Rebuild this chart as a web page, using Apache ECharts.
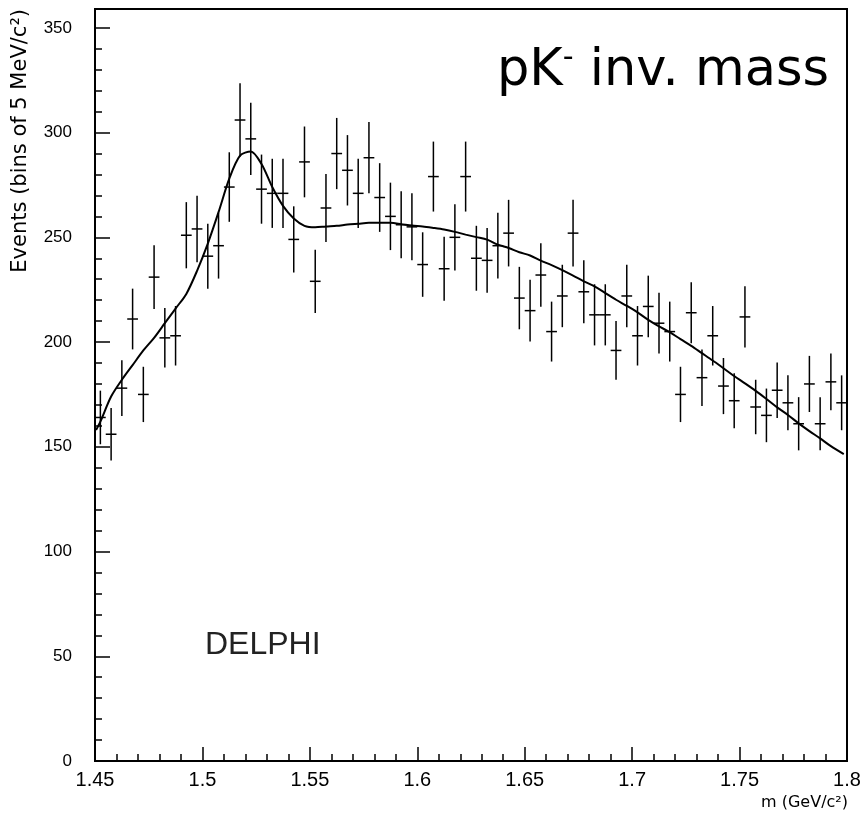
<!DOCTYPE html>
<html><head><meta charset="utf-8">
<script src="https://cdn.jsdelivr.net/npm/echarts/dist/echarts.min.js"></script>
<style>html,body{margin:0;padding:0;background:#fff}#c{width:865px;height:816px}</style>
</head><body><div id="c"></div>
<script>
// Bin centres (GeV/c^2), 5 MeV bins
const binCenters = [
 1.4525,1.4575,1.4625,1.4675,1.4725,1.4775,1.4825,1.4875,1.4925,1.4975,
 1.5025,1.5075,1.5125,1.5175,1.5225,1.5275,1.5325,1.5375,1.5425,1.5475,
 1.5525,1.5575,1.5625,1.5675,1.5725,1.5775,1.5825,1.5875,1.5925,1.5975,
 1.6025,1.6075,1.6125,1.6175,1.6225,1.6275,1.6325,1.6375,1.6425,1.6475,
 1.6525,1.6575,1.6625,1.6675,1.6725,1.6775,1.6825,1.6875,1.6925,1.6975,
 1.7025,1.7075,1.7125,1.7175,1.7225,1.7275,1.7325,1.7375,1.7425,1.7475,
 1.7525,1.7575,1.7625,1.7675,1.7725,1.7775,1.7825,1.7875,1.7925,1.7975
];
// Events per bin
const counts = [
 164,156,178,211,175,231,202,203,251,254,
 241,246,274,306,297,273,271,271,249,286,
 229,264,290,282,271,288,269,260,256,255,
 237,279,235,250,279,240,239,246,252,221,
 215,232,205,222,252,224,213,213,196,222,
 203,217,209,205,175,214,183,203,179,172,
 212,169,165,177,171,161,180,161,181,171
];
// Error half-lengths
const errors = [
 12.8,12.5,13.3,14.5,13.2,15.2,14.2,14.2,15.8,15.9,
 15.5,15.7,16.6,17.5,17.2,16.5,16.5,16.5,15.8,16.9,
 15.1,16.2,17.0,16.8,16.5,17.0,16.4,16.1,16.0,16.0,
 15.4,16.7,15.3,15.8,16.7,15.5,15.5,15.7,15.9,14.9,
 14.7,15.2,14.3,14.9,15.9,15.0,14.6,14.6,14.0,14.9,
 14.2,14.7,14.5,14.3,13.2,14.6,13.5,14.2,13.4,13.1,
 14.6,13.0,12.8,13.3,13.1,12.7,13.4,12.7,13.5,13.1
];
// Fitted curve
const fitMass = [
 1.4505,1.4525,1.4575,1.4625,1.4675,1.4725,1.4775,1.4825,1.4875,1.4925,1.4975,
 1.5025,1.5075,1.5125,1.5175,1.5225,1.5275,1.5325,1.5375,1.5425,1.5475,
 1.5525,1.5575,1.5625,1.5675,1.5725,1.5775,1.5825,1.5875,1.5925,1.5975,
 1.6025,1.6075,1.6125,1.6175,1.6225,1.6275,1.6325,1.6375,1.6425,1.6475,
 1.6525,1.6575,1.6625,1.6675,1.6725,1.6775,1.6825,1.6875,1.6925,1.6975,
 1.7025,1.7075,1.7125,1.7175,1.7225,1.7275,1.7325,1.7375,1.7425,1.7475,
 1.7525,1.7575,1.7625,1.7675,1.7725,1.7775,1.7825,1.7875,1.7925,1.7985
];
const fitValues = [
 158,162,174,182,189,196,202,209,216,223,234,
 247,262,278,289,291,285,274,265,259,255.5,
 254.8,255.2,255.5,256.1,256.5,256.9,256.9,256.9,256.3,255.6,
 255.2,254.5,253.7,252.6,251.3,250.1,248.9,246.5,244.9,242.9,
 241.3,238.9,236.7,234.3,231.7,229.0,226.6,223.4,220.2,217.3,
 214.2,210.6,207.5,204.7,201.4,198.2,194.7,191.2,187.5,183.8,
 180.3,176.7,172.8,168.8,165.2,161.2,157.5,154.0,150.3,146.5
];
const binWidth = 0.005;
const yTitle = 'Events (bins of 5 MeV/c²)';
const xTitle = 'm (GeV/c²)';
const expLabel = 'DELPHI';

const chart = echarts.init(document.getElementById('c'), null, {renderer: 'canvas'});
const FONT = '"Liberation Sans", Arial, sans-serif';
chart.setOption({
  animation: false,
  backgroundColor: '#fff',
  grid: {left: 95, right: 18, top: 9, bottom: 55, show: true, borderColor: '#000', borderWidth: 2, backgroundColor: 'transparent'},
  xAxis: {
    type: 'value', min: 1.45, max: 1.8, interval: 0.05,
    axisLine: {lineStyle: {color: '#000', width: 2}},
    axisTick: {inside: true, length: 14, lineStyle: {color: '#000', width: 1.5}},
    minorTick: {show: true, splitNumber: 5, length: 7, lineStyle: {color: '#000', width: 1.5}},
    splitLine: {show: false},
    axisLabel: {fontFamily: FONT, fontSize: 20, color: '#000', margin: 9,
      formatter: v => String(+v.toFixed(2))}
  },
  yAxis: {
    type: 'value', min: 0, max: 359, interval: 50,
    axisLine: {lineStyle: {color: '#000', width: 2}},
    axisTick: {inside: true, length: 15, lineStyle: {color: '#000', width: 1.5}},
    minorTick: {show: true, splitNumber: 5, length: 7, lineStyle: {color: '#000', width: 1.5}},
    splitLine: {show: false},
    axisLabel: {fontFamily: FONT, fontSize: 17, color: '#000', margin: 23,
      formatter: v => (Math.round(v) % 50 === 0 ? String(Math.round(v)) : '')}
  },
  series: [
    {
      type: 'line', data: fitMass.map((m, i) => [m, fitValues[i]]),
      showSymbol: false, smooth: 0.3, z: 4,
      lineStyle: {color: '#000', width: 2}
    },
    {
      type: 'custom', z: 3,
      data: binCenters.map((x, i) => [x, counts[i], errors[i]]),
      encode: {x: 0, y: 1},
      renderItem: (params, api) => {
        const x = api.value(0), y = api.value(1), e = api.value(2);
        const t = api.coord([x, y + e]), b = api.coord([x, y - e]);
        const l = api.coord([x - binWidth / 2, y]), r = api.coord([x + binWidth / 2, y]);
        const st = {stroke: '#000', lineWidth: 1.5};
        return {type: 'group', children: [
          {type: 'line', shape: {x1: t[0], y1: t[1], x2: b[0], y2: b[1]}, style: st},
          {type: 'line', shape: {x1: l[0], y1: l[1], x2: r[0], y2: r[1]}, style: st}
        ]};
      }
    }
  ],
  graphic: [
    {type: 'text', x: 21, y: 9, rotation: Math.PI / 2,
      style: {text: yTitle, fontFamily: '"DejaVu Sans", sans-serif', fontSize: 21, fill: '#000', align: 'right', verticalAlign: 'middle'}},
    {type: 'text', x: 848, y: 803,
      style: {text: xTitle, fontFamily: '"DejaVu Sans", sans-serif', fontSize: 16, fill: '#000', align: 'right', verticalAlign: 'middle'}},
    {type: 'text', x: 205, y: 645,
      style: {text: expLabel, fontFamily: FONT, fontSize: 32, fill: '#222', align: 'left', verticalAlign: 'middle'}},
    {type: 'text', x: 497, y: 72,
      style: {
        text: '{a|pK}{s|-}{a| inv. mass}',
        verticalAlign: 'middle', align: 'left',
        rich: {
          a: {fontFamily: '"DejaVu Sans", sans-serif', fontSize: 51, fill: '#000', lineHeight: 58},
          s: {fontFamily: '"DejaVu Sans", sans-serif', fontSize: 30, fill: '#000', verticalAlign: 'top', lineHeight: 30}
        }
      }}
  ]
});
</script></body></html>
